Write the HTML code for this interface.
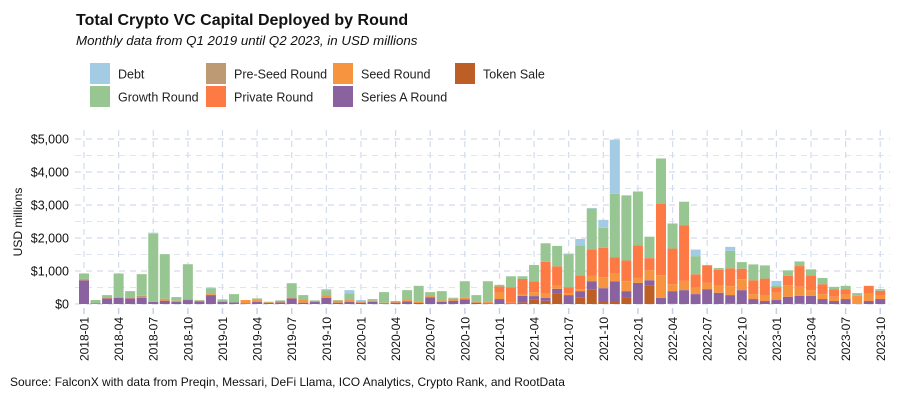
<!DOCTYPE html>
<html><head><meta charset="utf-8"><style>
body{margin:0;background:#fff;font-family:"Liberation Sans",sans-serif;}
#wrap{position:relative;width:900px;height:400px;overflow:hidden;}
</style></head><body>
<div id="wrap">
<svg id="svg" width="900" height="400" xmlns="http://www.w3.org/2000/svg" font-family="Liberation Sans, sans-serif">
<text x="76" y="25" font-size="16" font-weight="bold" fill="#111">Total Crypto VC Capital Deployed by Round</text>
<text x="76" y="45" font-size="13.3" font-style="italic" fill="#111">Monthly data from Q1 2019 until Q2 2023, in USD millions</text>
<g id="legend"></g>
<g id="grid"></g>
<g id="bars"></g>
<g id="axes"></g>
<text transform="translate(22,222) rotate(-90)" text-anchor="middle" font-size="12" fill="#111">USD millions</text>
<text x="10" y="386" font-size="12" fill="#111">Source: FalconX with data from Preqin, Messari, DeFi Llama, ICO Analytics, Crypto Rank, and RootData</text>
</svg>
</div>
<script>
const seriesNames=["Token Sale","Series A Round","Seed Round","Private Round","Pre-Seed Round","Growth Round","Debt"];
const tokenSale=[0,0,0,0,0,0,0,0,0,0,0,0,0,0,0,0,0,0,0,0,0,0,0,0,0,0,0,0,0,0,0,0,0,0,0,0,0,0,50,130,100,330,0,190,430,60,90,200,0,550,0,20,0,0,0,0,20,0,0,0,0,0,20,0,0,0,0,0,0,0];
const seriesA=[720,20,170,190,170,190,60,100,60,120,80,270,60,50,20,60,30,50,170,40,60,190,40,60,40,70,20,40,80,30,200,70,100,140,40,20,150,20,200,110,90,130,270,200,260,420,600,190,640,170,190,370,420,300,450,340,250,420,150,90,120,220,230,250,150,90,150,0,90,150];
const seed=[40,0,30,20,30,0,20,60,40,30,20,30,30,0,100,60,20,40,30,100,30,80,60,60,30,30,20,30,40,50,40,40,60,50,30,30,200,20,40,120,120,90,60,60,160,330,230,300,150,300,680,210,280,190,190,210,270,330,150,160,220,350,270,170,150,130,140,230,230,100];
const privateRound=[0,0,0,0,0,0,0,0,0,0,0,0,0,0,0,0,0,0,0,0,0,0,0,0,0,0,0,0,0,0,0,0,0,0,0,20,180,470,470,330,970,590,170,420,800,890,500,630,990,370,2160,1080,1680,410,530,490,540,320,420,520,160,280,630,450,300,230,160,20,230,150];
const preSeed=[0,0,0,0,0,60,0,0,0,0,0,0,0,0,0,0,0,0,0,0,0,0,0,0,0,0,0,20,0,0,0,0,0,0,0,0,0,0,0,0,0,0,0,0,0,0,0,0,0,0,0,0,0,0,0,0,0,0,0,0,0,0,0,0,0,0,0,0,0,0];
const growth=[165,100,70,715,190,655,2050,1350,110,1055,20,180,50,250,0,50,20,20,430,130,20,150,20,200,20,50,320,0,300,470,120,280,30,500,200,620,50,330,80,490,560,620,1010,910,1240,610,1920,1960,1630,650,1380,760,720,550,10,50,530,200,480,400,70,170,140,180,190,70,100,80,0,50];
const debt=[0,0,0,0,0,0,30,0,0,0,0,20,0,0,0,0,0,0,0,0,0,30,0,100,30,0,0,0,0,0,0,0,0,0,0,0,0,0,0,0,0,0,20,190,20,240,1640,20,0,0,0,0,0,200,0,0,120,0,0,0,130,0,0,0,0,0,0,0,0,0];
const yTicks=[0,1000,2000,3000,4000,5000];
const yTickLabels=["$0","$1,000","$2,000","$3,000","$4,000","$5,000"];
const xTickLabels=["2018-01","2018-04","2018-07","2018-10","2019-01","2019-04","2019-07","2019-10","2020-01","2020-04","2020-07","2020-10","2021-01","2021-04","2021-07","2021-10","2022-01","2022-04","2022-07","2022-10","2023-01","2023-04","2023-07","2023-10"];
const seriesData=[tokenSale,seriesA,seed,privateRound,preSeed,growth,debt];
const colors=["#bd5e27","#8a62a0","#f7943f","#fd7a45","#be9a74","#98c692","#a4cbe4"];
const NS="http://www.w3.org/2000/svg";
const X0=84, DX=11.54, Y0=304, YS=33.0/1000, BW=10;
function xPos(i){return X0+i*DX;}
function yPos(v){return Y0-v*YS;}
function mk(tag,attrs,parent){const e=document.createElementNS(NS,tag);for(const k in attrs)e.setAttribute(k,attrs[k]);parent.appendChild(e);return e;}
const grid=document.getElementById('grid'),bars=document.getElementById('bars'),axes=document.getElementById('axes'),legend=document.getElementById('legend');
for(let v=0;v<=5000;v+=500){const y=yPos(v);
 const l=mk('line',{x1:75,x2:890,y1:y,y2:y,stroke:'#d3dbec','stroke-width':v%1000?0.8:1.2,'stroke-dasharray':'6,5'},grid);
 
 }
xTickLabels.forEach((t,k)=>{const x=xPos(k*3);
 const l=mk('line',{x1:x,x2:x,y1:130,y2:304,stroke:'#d3dbec','stroke-width':1.2,'stroke-dasharray':'6,5'},grid);
 
 
 const tk=mk('line',{x1:x,x2:x,y1:308,y2:314,stroke:'#c7d0e6','stroke-width':1.5},axes);
 
 
 const tx=mk('text',{transform:`translate(${x+4.5},317) rotate(-90)`,'text-anchor':'end','font-size':12,fill:'#111'},axes);
 tx.textContent=t;
 
 });
yTicks.forEach((v,k)=>{const tx=mk('text',{x:69,y:yPos(v)+4.5,'text-anchor':'end','font-size':12.5,fill:'#111'},axes);
 tx.textContent=yTickLabels[k];
 
 });
for(let i=0;i<growth.length;i++){let acc=0;
 seriesData.forEach((s,si)=>{const v=s[i];if(!v)return;
  const r=mk('rect',{x:xPos(i)-BW/2,y:yPos(acc+v),width:BW,height:v*YS,fill:colors[si]},bars);
  
  
  acc+=v;});}
const legItems=[["Debt",6,90,63],["Growth Round",5,90,86],["Pre-Seed Round",4,206,63],["Private Round",3,206,86],["Seed Round",2,333,63],["Series A Round",1,333,86],["Token Sale",0,455,63]];
legItems.forEach(([n,ci,x,y])=>{
 const r=mk('rect',{x:x,y:y,width:20,height:21,fill:colors[ci]},legend);
 
 
 const t=mk('text',{x:x+28,y:y+15.5,'font-size':12.5,fill:'#222'},legend);
 t.textContent=n;
 
 });
</script>
</body></html>
